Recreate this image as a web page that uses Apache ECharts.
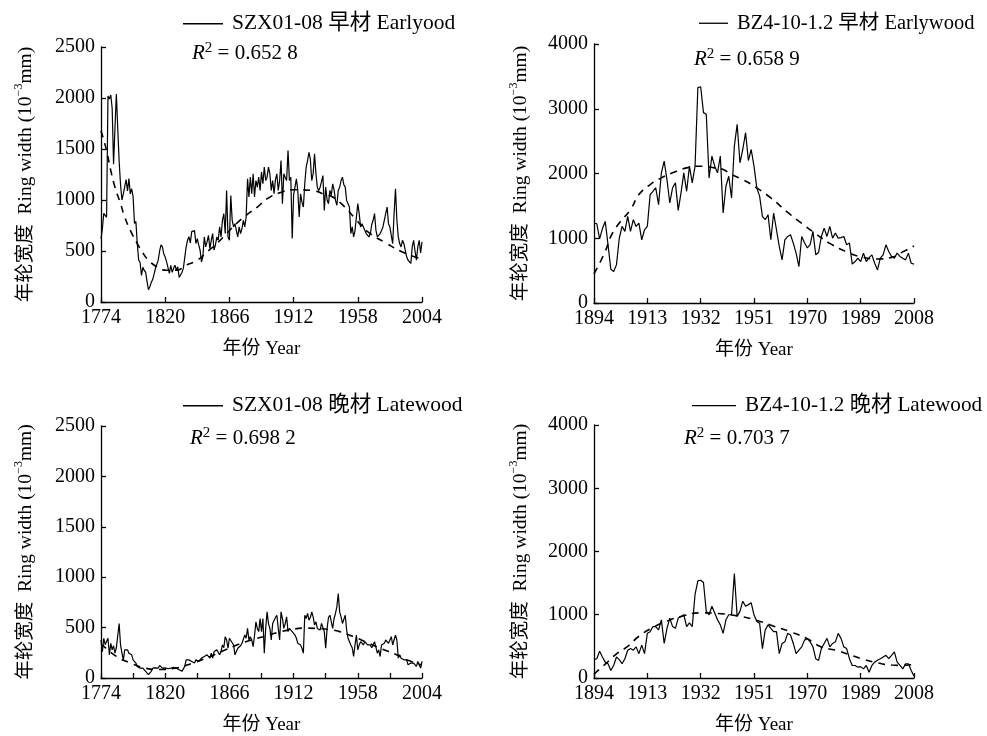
<!DOCTYPE html>
<html>
<head>
<meta charset="utf-8">
<script src="https://cdn.jsdelivr.net/npm/echarts@6/dist/echarts.min.js"></script>
<style>html,body{margin:0;padding:0;background:#fff;}#c{width:987px;height:736px;}</style>
</head>
<body>
<div id="c"></div>
<script>
// ---------------- data ----------------
const szxStart = 1774;
const bzStart = 1894;

const szxEarly = [
  620, 720, 870, 850, 830, 2020, 1990, 2030, 1900, 1350,
  1700, 2040, 1700, 1380, 1150, 1000, 1060, 1130, 1200, 1090,
  1210, 1060, 1110, 1030, 770, 790, 570, 410, 390, 260,
  340, 310, 290, 200, 120, 150, 190, 220, 270, 330,
  345, 410, 500, 560, 540, 470, 440, 394, 394, 280,
  360, 290, 330, 360, 312, 345, 240, 250, 290, 330,
  312, 540, 605, 640, 580, 690, 680, 700, 573, 622,
  560, 508, 394, 443, 638, 540, 590, 654, 524, 605,
  671, 508, 560, 638, 605, 736, 638, 800, 866, 671,
  1094, 638, 605, 1045, 801, 736, 768, 700, 638, 736,
  671, 720, 801, 736, 833, 1207, 1029, 1224, 1061, 1257,
  1029, 1191, 1126, 1224, 1094, 1273, 1159, 1322, 1191, 1224,
  1322, 1257, 1094, 1191, 1061, 1200, 1257, 1094, 1191, 1387,
  964, 1257, 1220, 1191, 1484, 1191, 1224, 622, 1050, 1126,
  1207, 1094, 833, 1061, 980, 931, 1159, 1322, 1387, 1468,
  1400, 1191, 1257, 1452, 1257, 1126, 1094, 1126, 1180, 1240,
  898, 1126, 1000, 964, 1094, 1045, 1159, 1100, 996, 948,
  1094, 1126, 1191, 1224, 1150, 1126, 996, 964, 931, 671,
  736, 638, 700, 833, 964, 866, 736, 768, 768, 703,
  671, 687, 638, 671, 760, 801, 866, 703, 638, 640,
  671, 700, 736, 720, 866, 931, 768, 736, 650, 573,
  866, 1110, 801, 638, 573, 540, 605, 573, 508, 443,
  410, 394, 378, 540, 605, 500, 410, 540, 605, 480,
  590
];
const szxEarlyFitYears = [1774, 1778, 1781, 1784, 1788, 1791, 1795, 1800, 1804, 1808, 1814, 1821, 1828, 1835, 1843, 1850, 1857, 1864, 1871, 1878, 1886, 1893, 1902, 1912, 1925, 1935, 1940, 1948, 1956, 1965, 1978, 1990, 2004];
const szxEarlyFitValues = [1680, 1484, 1289, 1126, 964, 833, 703, 573, 480, 410, 345, 312, 312, 361, 410, 492, 573, 671, 768, 850, 931, 1012, 1070, 1100, 1094, 1050, 1029, 940, 820, 690, 580, 490, 420];

const bzEarly = [
  1235, 1224, 990, 1150, 1260, 900, 520, 485, 589, 1000,
  1183, 1106, 1338, 1106, 1286, 1183, 1235, 976, 1131, 1183,
  1674, 1725, 1780, 1519, 2010, 2191, 1906, 1545, 1780, 1855,
  1430, 1700, 2010, 1725, 2113, 1855, 2113, 3327, 3340, 2940,
  2914, 1932, 2268, 2113, 2010, 2268, 1390, 1803, 1958, 1622,
  2423, 2759, 2165, 2371, 2630, 2200, 2371, 2113, 1777, 1650,
  1338, 1286, 1364, 976, 1390, 1131, 873, 666, 976, 1028,
  1054, 925, 770, 563, 1028, 930, 850, 900, 1106, 744,
  780, 1028, 1157, 1028, 1183, 1002, 1080, 1002, 1010, 1028,
  899, 925, 600, 640, 692, 640, 770, 640, 700, 744,
  614, 511, 692, 744, 899, 796, 718, 692, 770, 720,
  692, 666, 770, 614, 600
];
const bzEarlyFitYears = [1894, 1898, 1900, 1903, 1907, 1910, 1914, 1918, 1922, 1927, 1932, 1937, 1940, 1943, 1947, 1952, 1957, 1963, 1968, 1973, 1978, 1984, 1989, 1995, 2000, 2004, 2008];
const bzEarlyFitValues = [450, 796, 1028, 1235, 1442, 1674, 1829, 1932, 2010, 2087, 2113, 2087, 2061, 1984, 1906, 1777, 1622, 1400, 1230, 1070, 920, 790, 715, 680, 705, 790, 880];

const szxLate = [
  377, 262, 394, 330, 328, 394, 230, 344, 279, 320,
  246, 300, 290, 541, 328, 250, 180, 279, 295, 280,
  246, 260, 230, 180, 195, 148, 115, 100, 98, 85,
  98, 82, 66, 50, 33, 49, 66, 98, 82, 100,
  115, 98, 125, 115, 98, 115, 100, 98, 92, 82,
  98, 100, 105, 92, 98, 105, 82, 72, 66, 66,
  115, 180, 197, 180, 164, 164, 180, 148, 180, 197,
  164, 164, 197, 180, 213, 197, 230, 230, 197, 246,
  197, 262, 246, 279, 279, 230, 262, 328, 300, 410,
  377, 295, 394, 377, 350, 328, 230, 262, 295, 279,
  320, 344, 328, 426, 394, 492, 377, 410, 377, 312,
  420, 557, 492, 460, 590, 460, 590, 246, 492, 656,
  540, 492, 377, 540, 525, 600, 623, 492, 377, 656,
  590, 492, 540, 607, 460, 492, 476, 460, 460, 426,
  394, 344, 361, 328, 295, 246, 623, 590, 640, 574,
  600, 656, 607, 525, 557, 492, 508, 476, 541, 557,
  460, 295, 492, 600, 623, 640, 492, 590, 640, 705,
  837, 656, 607, 541, 560, 623, 476, 394, 377, 328,
  300, 213, 328, 426, 279, 328, 360, 377, 328, 361,
  344, 328, 312, 328, 300, 328, 361, 344, 246, 279,
  213, 328, 312, 344, 377, 361, 344, 377, 410, 328,
  377, 426, 377, 197, 230, 197, 197, 180, 164, 180,
  131, 115, 148, 131, 148, 164, 115, 164, 148, 98,
  164
];
const szxLateFitYears = [1774, 1785, 1795, 1805, 1815, 1828, 1840, 1850, 1860, 1870, 1880, 1890, 1900, 1910, 1920, 1930, 1940, 1945, 1955, 1965, 1975, 1985, 1995, 2004];
const szxLateFitValues = [340, 215, 150, 100, 85, 100, 150, 200, 260, 320, 370, 410, 450, 480, 495, 490, 475, 460, 410, 350, 290, 235, 170, 130];

const bzLate = [
  290, 305, 423, 332, 251, 225, 118, 198, 332, 290,
  225, 305, 439, 465, 440, 492, 385, 519, 385, 706,
  733, 813, 813, 760, 920, 546, 786, 947, 813, 786,
  947, 974, 1000, 813, 870, 813, 1321, 1535, 1546, 1509,
  1054, 1000, 1134, 1027, 920, 840, 706, 920, 1000, 1000,
  1653, 974, 1054, 1214, 1134, 1160, 1188, 1000, 893, 867,
  465, 760, 840, 786, 733, 733, 385, 546, 572, 706,
  679, 546, 385, 439, 492, 599, 626, 572, 492, 305,
  278, 465, 546, 626, 492, 546, 572, 706, 626, 492,
  465, 305, 198, 198, 171, 180, 144, 198, 91, 198,
  251, 280, 305, 332, 358, 305, 358, 412, 251, 198,
  144, 225, 225, 118, 27
];
const bzLateFitYears = [1894, 1898, 1902, 1906, 1910, 1915, 1920, 1926, 1932, 1938, 1946, 1952, 1958, 1964, 1970, 1975, 1980, 1985, 1990, 1995, 2000, 2004, 2008];
const bzLateFitValues = [60, 220, 380, 500, 660, 800, 900, 985, 1030, 1020, 975, 910, 820, 730, 620, 490, 440, 370, 295, 240, 205, 200, 215];

const legendNames = ['SZX01-08 早材 Earlyood', 'BZ4-10-1.2 早材 Earlywood', 'SZX01-08 晚材 Latewood', 'BZ4-10-1.2 晚材 Latewood'];
const r2Labels = ['0.652 8', '0.658 9', '0.698 2', '0.703 7'];
const xLeftTicks = {min: 1774, max: 2004, interval: 46};
const xRightTicks = {min: 1894, max: 2008, interval: 19};
const yLeftTicks = {min: 0, max: 2500, interval: 500};
const yRightTicks = {min: 0, max: 4000, interval: 1000};

// ---------------- helpers ----------------
const FONT = "'Liberation Serif', 'Times New Roman', 'Noto Sans CJK SC', serif";
const annual = (start, vals) => vals.map((v, i) => [start + i, v]);
const zipPts = (ys, vs) => ys.map((y, i) => [y, vs[i]]);

const grids = [
  {left: 101, top: 47, width: 321, height: 255},
  {left: 594, top: 44, width: 320, height: 259},
  {left: 101, top: 426, width: 321, height: 254},
  {left: 594, top: 425, width: 320, height: 254}
];

function xAxis(i, t, minorEvery) {
  return {
    gridIndex: i, type: 'value', min: t.min, max: t.max,
    interval: minorEvery ? t.interval / 2 : t.interval,
    axisLine: {onZero: false, lineStyle: {color: '#000', width: 1.3}},
    axisTick: {inside: true, length: 5, lineStyle: {color: '#000', width: 1.3}},
    axisLabel: {color: '#000', fontSize: 20, fontFamily: FONT, margin: 6,
      formatter: v => ((v - t.min) % t.interval === 0 ? String(v) : '')},
    splitLine: {show: false},
    name: '年份 Year', nameLocation: 'middle', nameGap: 38,
    nameTextStyle: {color: '#000', fontSize: 19, fontFamily: FONT}
  };
}
function yAxis(i, t, gap) {
  return {
    gridIndex: i, type: 'value', min: t.min, max: t.max, interval: t.interval,
    axisLine: {show: true, lineStyle: {color: '#000', width: 1.3}},
    axisTick: {show: true, inside: true, length: 5, lineStyle: {color: '#000', width: 1.3}},
    axisLabel: {color: '#000', fontSize: 20, fontFamily: FONT, margin: 6, formatter: v => String(v)},
    splitLine: {show: false},
    name: '年轮宽度  Ring width (10{s|−3}mm)', nameLocation: 'middle', nameRotate: 90, nameGap: gap,
    nameTextStyle: {color: '#000', fontSize: 19.5, fontFamily: FONT, lineHeight: 26,
      rich: {s: {fontSize: 12, fontFamily: FONT, color: '#000', verticalAlign: 'top', lineHeight: 12}}}
  };
}
function solid(i, name, data) {
  return {type: 'line', name: name, xAxisIndex: i, yAxisIndex: i, data: data,
    symbol: 'none', showSymbol: false, lineStyle: {color: '#000', width: 1.2}, itemStyle: {color: '#000'}, z: 3};
}
function dashed(i, data) {
  return {type: 'line', name: 'fit' + i, xAxisIndex: i, yAxisIndex: i, data: data, smooth: true,
    symbol: 'none', showSymbol: false, lineStyle: {color: '#000', width: 1.6, type: [7, 6]}, z: 2};
}
function legend(i, left, top, w, fs) {
  return {data: [{name: legendNames[i], icon: 'rect'}], left: left, top: top, itemWidth: w, itemHeight: 1.3, padding: 0,
    itemStyle: {color: '#000', borderWidth: 0},
    textStyle: {color: '#000', fontSize: fs, fontFamily: FONT, padding: [0, 0, 0, 4]}};
}
const richR2 = {
  r: {fontFamily: FONT, fontStyle: 'italic', fontWeight: 'normal', fontSize: 21, color: '#000', lineHeight: 24},
  s: {fontFamily: FONT, fontWeight: 'normal', fontSize: 15, color: '#000', verticalAlign: 'top', lineHeight: 13},
  t: {fontFamily: FONT, fontWeight: 'normal', fontSize: 21, color: '#000', lineHeight: 24}
};
function r2(i, left, top) {
  return {text: '{r|R}{s|2}{t| = ' + r2Labels[i] + '}', left: left, top: top, padding: 0,
    textStyle: {fontWeight: 'normal', rich: richR2}};
}

const option = {
  animation: false,
  backgroundColor: '#fff',
  grid: grids,
  xAxis: [xAxis(0, xLeftTicks, false), xAxis(1, xRightTicks, false), xAxis(2, xLeftTicks, true), xAxis(3, xRightTicks, false)],
  yAxis: [yAxis(0, yLeftTicks, 62), yAxis(1, yRightTicks, 60), yAxis(2, yLeftTicks, 62), yAxis(3, yRightTicks, 60)],
  legend: [legend(0, 183, 13, 40, 21.5), legend(1, 699, 13, 29, 20.5), legend(2, 183, 395, 40, 21.5), legend(3, 692, 395, 44, 21.2)],
  title: [r2(0, 192, 41), r2(1, 694, 47), r2(2, 190, 426), r2(3, 684, 426)],
  series: [
    solid(0, legendNames[0], annual(szxStart, szxEarly)),
    dashed(0, zipPts(szxEarlyFitYears, szxEarlyFitValues)),
    solid(1, legendNames[1], annual(bzStart, bzEarly)),
    dashed(1, zipPts(bzEarlyFitYears, bzEarlyFitValues)),
    solid(2, legendNames[2], annual(szxStart, szxLate)),
    dashed(2, zipPts(szxLateFitYears, szxLateFitValues)),
    solid(3, legendNames[3], annual(bzStart, bzLate)),
    dashed(3, zipPts(bzLateFitYears, bzLateFitValues))
  ]
};
const chart = echarts.init(document.getElementById('c'), null, {renderer: 'canvas'});
chart.setOption(option);
</script>
</body>
</html>
